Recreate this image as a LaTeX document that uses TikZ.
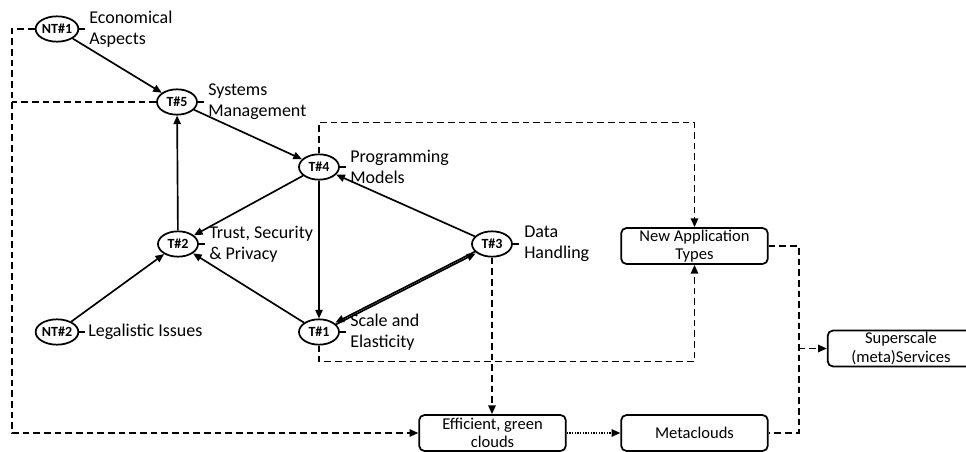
\documentclass[tikz,border=0pt]{standalone}
\usepackage{fontspec}
\setmainfont{Carlito}
\usetikzlibrary{shapes.geometric, arrows.meta, positioning, calc}

\begin{document}
\begin{tikzpicture}[
    x=0.75pt, y=-0.75pt,
    arr/.style={-{Triangle[length=6.5pt, width=5.5pt]}, line width=1.25pt},
    dsh/.style={line width=1.3pt, dash pattern=on 5pt off 3pt},
    dot/.style={line width=1.2pt, dash pattern=on 1pt off 1pt},
    topic/.style={ellipse, draw, line width=1.3pt, minimum width=30pt, minimum height=19pt, inner sep=0pt, font=\fontsize{10.5}{12}\selectfont\bfseries},
    lbl/.style={anchor=west, inner sep=0pt, align=left, font=\fontsize{13.5}{16}\selectfont},
    goal/.style={rectangle, rounded corners=4pt, draw, line width=1.3pt, minimum width=110pt, minimum height=27pt, inner sep=0pt, align=center, font=\fontsize{12.4}{14}\selectfont},
]
\clip (0,0) rectangle (966,452);

% Topics
\node[topic] (nt1) at (57,29) {NT\#1};
\node[topic] (t5) at (177,102) {T\#5};
\node[topic] (t4) at (319,167) {T\#4};
\node[topic] (t2) at (178,244) {T\#2};
\node[topic] (t3) at (492,244) {T\#3};
\node[topic] (t1) at (319,332) {T\#1};
\node[topic] (nt2) at (57,332) {NT\#2};

% Labels
\node[lbl] (leco) at (89,29) {Economical\\Aspects};
\node[lbl] (lsys) at (208,102) {Systems\\Management};
\node[lbl] (lprog) at (350,167) {Programming\\Models};
\node[lbl] (ltrust) at (209,244) {Trust, Security\\\& Privacy};
\node[lbl] (ldata) at (524,244) {Data\\Handling};
\node[lbl] (lscale) at (350,332) {Scale and\\Elasticity};
\node[lbl] (llegal) at (88,332) {Legalistic Issues};

\foreach \n in {nt1,t5,t4,t2,t3,t1,nt2}
    \draw[line width=1.3pt] (\n.east) -- ++(6,0);

% Goals
\node[goal] (app) at (694.5,246) {New Application\\Types};
\node[goal] (eff) at (492.5,433) {Efficient, green\\clouds};
\node[goal] (meta) at (694.5,433) {Metaclouds};
\node[goal] (super) at (901,348.5) {Superscale\\(meta)Services};

% Topic relations
\draw[arr] (nt1) -- (t5);
\draw[arr] (t5) -- (t4);
\draw[arr] (t2) -- (t5);
\draw[arr] (t4) -- (t2);
\draw[arr] (t4) -- (t1);
\draw[arr] (t3) -- (t4);
\draw[arr] (t1) -- (t2);
\draw[arr] (nt2) -- (t2);
\draw[arr, transform canvas={yshift=0.8pt}] (t3) -- (t1);
\draw[arr, transform canvas={yshift=-0.8pt}] (t1) -- (t3);

% Towards the goals
\coordinate (lft) at (12,29);
\draw[dsh, arr] (nt1.west) -- (lft) |- (eff.west);
\draw[dsh] (t5.west) -- (t5.west -| lft);
\draw[dsh, arr] (t4.north) -- ++(0,-31) -| (app.north);
\draw[dsh, arr] (t1.south) -- ++(0,16) -| (app.south);
\draw[dsh, arr] (t3.south) -- (t3.south |- eff.north);
\draw[dot, arr] (eff.east) -- (meta.west);
\coordinate (jn) at ($(app.east)+(30,0)$);
\draw[dsh] (app.east) -- (jn) |- (meta.east);
\draw[dsh, arr] (jn |- super.west) -- (super.west);

\end{tikzpicture}
\end{document}
